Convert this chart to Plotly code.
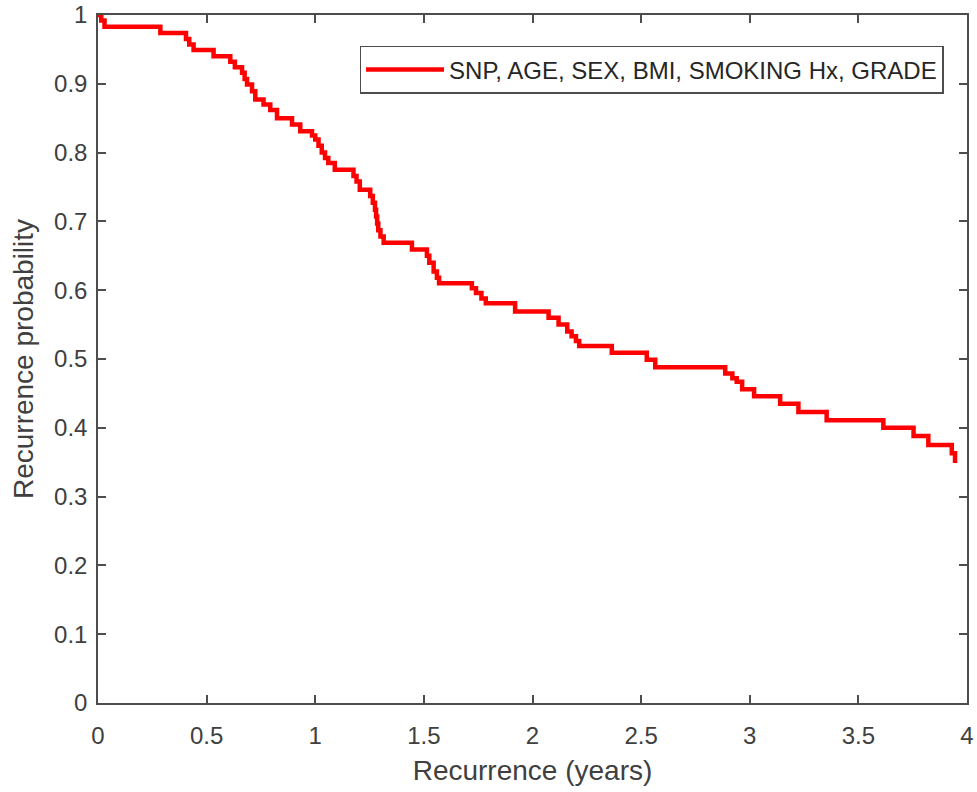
import plotly.graph_objects as go

# Step-function (Kaplan-Meier style) data
times = [0.0, 0.015, 0.03, 0.287, 0.405, 0.42, 0.44, 0.532, 0.609, 0.63, 0.663,
         0.675, 0.686, 0.709, 0.724, 0.762, 0.793, 0.824, 0.893, 0.931, 0.985,
         1.00, 1.015, 1.03, 1.045, 1.06, 1.09, 1.176, 1.19, 1.205, 1.253, 1.265,
         1.275, 1.28, 1.285, 1.29, 1.30, 1.315, 1.445, 1.514, 1.525, 1.545, 1.56,
         1.57, 1.721, 1.74, 1.765, 1.785, 1.920, 2.074, 2.12, 2.16, 2.18, 2.20,
         2.215, 2.365, 2.526, 2.565, 2.887, 2.92, 2.94, 2.965, 3.02, 3.14, 3.224,
         3.354, 3.615, 3.754, 3.822, 3.930, 3.945]
probability = [1.0, 0.992, 0.983, 0.974, 0.965, 0.957, 0.949, 0.940, 0.932, 0.924,
               0.916, 0.907, 0.899, 0.889, 0.877, 0.870, 0.862, 0.850, 0.841, 0.831,
               0.825, 0.819, 0.810, 0.800, 0.792, 0.785, 0.775, 0.766, 0.758, 0.746,
               0.737, 0.727, 0.717, 0.707, 0.697, 0.687, 0.678, 0.669, 0.659, 0.650,
               0.640, 0.627, 0.618, 0.610, 0.603, 0.596, 0.588, 0.581, 0.569, 0.560,
               0.550, 0.540, 0.533, 0.526, 0.519, 0.509, 0.499, 0.488, 0.479, 0.472,
               0.467, 0.456, 0.446, 0.435, 0.423, 0.411, 0.400, 0.388, 0.375, 0.363,
               0.349]

x_ticks = [0, 0.5, 1, 1.5, 2, 2.5, 3, 3.5, 4]
x_tick_labels = ["0", "0.5", "1", "1.5", "2", "2.5", "3", "3.5", "4"]
y_ticks = [0, 0.1, 0.2, 0.3, 0.4, 0.5, 0.6, 0.7, 0.8, 0.9, 1]
y_tick_labels = ["0", "0.1", "0.2", "0.3", "0.4", "0.5", "0.6", "0.7", "0.8", "0.9", "1"]
series_name = "SNP, AGE, SEX, BMI, SMOKING Hx, GRADE"

axis_color = "#4d4d4d"
text_color = "#404040"
font_family = "Liberation Sans, Arial, sans-serif"

fig = go.Figure()
fig.add_trace(go.Scatter(
    x=times, y=probability, mode="lines", name=series_name,
    line=dict(color="#ff0000", width=4.5, shape="hv"),
))

common_axis = dict(
    showgrid=False, zeroline=False, showline=True, linecolor=axis_color,
    linewidth=1.5, mirror="ticks", ticks="inside", ticklen=8,
    tickcolor=axis_color, tickwidth=1.5,
    tickfont=dict(family=font_family, size=24, color=text_color),
)

fig.update_layout(
    width=977, height=792,
    margin=dict(l=98, r=10, t=15, b=89),
    paper_bgcolor="white", plot_bgcolor="white",
    font=dict(family=font_family, color=text_color),
    xaxis=dict(range=[0, 4], tickvals=x_ticks, ticktext=x_tick_labels,
               ticklabelstandoff=10, automargin=False,
               title=dict(text="Recurrence (years)", font=dict(size=28, color=text_color),
                          standoff=13),
               **common_axis),
    yaxis=dict(range=[0, 1], tickvals=y_ticks, ticktext=y_tick_labels,
               ticklabelstandoff=4, automargin=False,
               title=dict(text="Recurrence probability", font=dict(size=28, color=text_color),
                          standoff=12),
               **common_axis),
    legend=dict(x=0.973, y=0.955, xanchor="right", yanchor="top",
                bgcolor="white", bordercolor=axis_color, borderwidth=1.5,
                font=dict(family=font_family, size=24, color="#262626"),
                itemwidth=78),
    showlegend=True,
)

fig.write_html("out.html")
